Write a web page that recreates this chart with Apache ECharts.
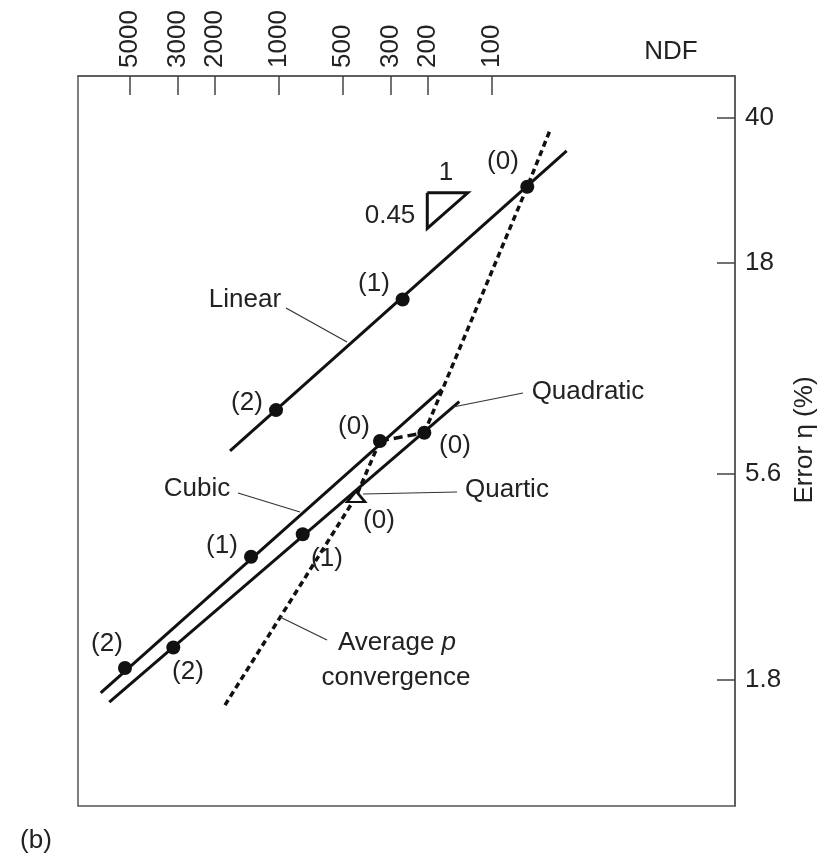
<!DOCTYPE html>
<html>
<head>
<meta charset="utf-8">
<script src="https://cdn.jsdelivr.net/npm/echarts@6/dist/echarts.min.js"></script>
<style>
  html, body { margin: 0; padding: 0; background: #fff; }
  #chart { width: 831px; height: 856px; }
</style>
</head>
<body>
<div id="chart"></div>
<script>
// Tick values: NDF on the top axis, error (%) on the right axis
const ndfTicks = [5000, 3000, 2000, 1000, 500, 300, 200, 100];
const errorTicks = [40, 18, 5.6, 1.8];

// Refinement steps (2), (1), (0) for each element order: [NDF, error %]
const linearPts = [[1033, 7.98], [263, 14.7], [68.4, 27.4]];
const quadraticPts = [[3134, 2.15], [774, 4.02], [208, 7.04]];
const cubicPts = [[5283, 1.92], [1353, 3.55], [336, 6.73]];
const quarticPts = [[435, 4.95]];

// Extents of the fitted h-convergence lines
const linearFit = [[1698, 6.37], [44.7, 33.4]];
const quadraticFit = [[6257, 1.59], [142.6, 8.36]];
const cubicFit = [[6868, 1.675], [172.4, 8.95]];

// Average p-convergence path (coarsest meshes, increasing order)
const pathLower = [[1793, 1.565], [435, 4.95], [336, 6.73]];
const pathLink = [[336, 6.73], [208, 7.04]];
const pathUpper = [[208, 7.04], [68.4, 27.4], [53.1, 37.8]];

// Slope triangle: corner, run in decades of NDF, slope
const slopeCorner = [201.5, 26.5];
const slopeRun = 0.19;
const slopeValue = 0.45;

const lg = v => Math.log10(v);
const toXY = arr => arr.map(p => [lg(p[0]), lg(p[1])]);

const ink = '#111';
const textColor = '#222';
const FONT = '26px "Liberation Sans", Arial, sans-serif';

function fmtNdf(v) { return String(Math.round(Math.pow(10, v))); }
function fmtErr(v) {
  const e = Math.pow(10, v);
  return e < 10 ? e.toFixed(1) : String(Math.round(e));
}

// slope triangle built from its stated slope
const tri = (() => {
  const n0 = slopeCorner[0], e0 = slopeCorner[1];
  const n1 = n0 / Math.pow(10, slopeRun);
  const e1 = e0 / Math.pow(10, slopeRun * slopeValue);
  return [[n0, e0], [n1, e0], [n0, e1], [n0, e0]];
})();

function solidLine(data) {
  return {
    type: 'line', data: toXY(data), symbol: 'none', silent: true,
    lineStyle: { color: ink, width: 3, opacity: 1 }, z: 3
  };
}
function dashLine(data, dash) {
  return {
    type: 'line', data: toXY(data), symbol: 'none', silent: true,
    lineStyle: { color: ink, width: 3.5, type: dash, opacity: 1 }, z: 2
  };
}
function dots(data) {
  return {
    type: 'scatter', data: toXY(data), symbol: 'circle', symbolSize: 14,
    itemStyle: { color: ink, opacity: 1 }, z: 5
  };
}

function txt(text, x, y, extra) {
  return Object.assign({
    type: 'text', x: x, y: y, z: 10,
    style: { text: text, x: 0, y: 0, font: FONT, fill: textColor, align: 'center', verticalAlign: 'middle' }
  }, extra || {});
}
function leader(x1, y1, x2, y2) {
  return {
    type: 'line', z: 9,
    shape: { x1: x1, y1: y1, x2: x2, y2: y2 },
    style: { stroke: '#333', lineWidth: 1.2 }
  };
}

const chart = echarts.init(document.getElementById('chart'));
chart.setOption({
  animation: false,
  backgroundColor: '#fff',
  grid: {
    left: 78, right: 96, top: 76, bottom: 50,
    show: true, borderColor: '#555', borderWidth: 1.5, backgroundColor: 'transparent'
  },
  xAxis: {
    type: 'value', position: 'top', inverse: true,
    min: 0.8603, max: 3.9433,
    splitLine: { show: false },
    axisLine: { show: true, onZero: false, lineStyle: { color: '#555', width: 1.5 } },
    axisTick: {
      show: true, inside: true, length: 19,
      customValues: ndfTicks.map(lg),
      lineStyle: { color: '#444', width: 1.5 }
    },
    axisLabel: {
      show: true, rotate: -90, margin: 8,
      customValues: ndfTicks.map(lg),
      formatter: fmtNdf,
      fontFamily: '"Liberation Sans", Arial, sans-serif', fontSize: 26, color: textColor
    }
  },
  yAxis: {
    type: 'value', position: 'right',
    min: -0.0476, max: 1.7034,
    splitLine: { show: false },
    axisLine: { show: true, onZero: false, lineStyle: { color: '#555', width: 1.5 } },
    axisTick: {
      show: true, inside: true, length: 18,
      customValues: errorTicks.map(lg),
      lineStyle: { color: '#444', width: 1.5 }
    },
    axisLabel: {
      show: true, margin: 10,
      customValues: errorTicks.map(lg),
      formatter: fmtErr,
      fontFamily: '"Liberation Sans", Arial, sans-serif', fontSize: 26, color: textColor
    }
  },
  series: [
    solidLine(linearFit),
    solidLine(quadraticFit),
    solidLine(cubicFit),
    dashLine(pathLower, [6, 4]),
    dashLine(pathLink, [9, 5]),
    dashLine(pathUpper, [6, 4]),
    dots(linearPts),
    dots(quadraticPts),
    dots(cubicPts),
    {
      type: 'scatter', data: toXY(quarticPts), symbol: 'triangle', symbolSize: [18, 11],
      itemStyle: { color: '#fff', borderColor: ink, borderWidth: 2.5, opacity: 1 }, z: 6
    },
    {
      type: 'line', data: toXY(tri), symbol: 'none', silent: true,
      lineStyle: { color: ink, width: 3, join: 'miter', opacity: 1 }, z: 3
    }
  ],
  graphic: [
    // point labels
    txt('(2)', 247, 403), txt('(1)', 374, 284), txt('(0)', 503, 162),
    txt('(0)', 354, 427), txt('(0)', 455, 446), txt('(0)', 379, 521),
    txt('(1)', 222, 546), txt('(1)', 327, 559),
    txt('(2)', 107, 644), txt('(2)', 188, 672),
    // slope triangle
    txt('1', 446, 173), txt('0.45', 390, 216),
    // element names with leaders
    txt('Linear', 245, 300), leader(286, 308, 347, 342),
    txt('Quadratic', 588, 392), leader(453, 407, 523, 393),
    txt('Quartic', 507, 490), leader(363, 494, 457, 492),
    txt('Cubic', 197, 489), leader(238, 493, 300, 512),
    {
      type: 'text', x: 397, y: 643, z: 10,
      style: {
        text: 'Average {i|p}', x: 0, y: 0, font: FONT, fill: textColor,
        align: 'center', verticalAlign: 'middle',
        rich: { i: { font: 'italic ' + FONT, fill: textColor } }
      }
    },
    txt('convergence', 396, 678), leader(280, 617, 327, 640),
    // axis titles and panel tag
    txt('NDF', 671, 52),
    txt('Error \u03b7 (%)', 805, 440, { rotation: Math.PI / 2 }),
    txt('(b)', 36, 841)
  ]
});
</script>
</body>
</html>
